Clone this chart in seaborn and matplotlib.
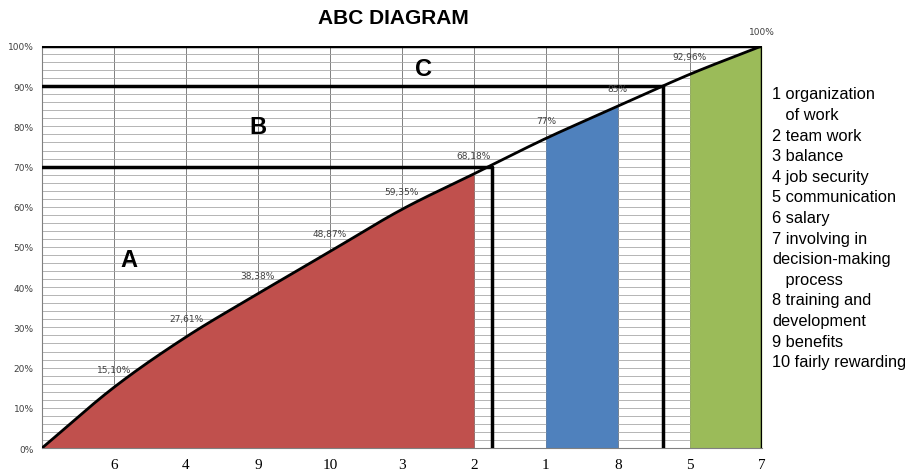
import numpy as np
import matplotlib
matplotlib.use("Agg")
import matplotlib.pyplot as plt
import seaborn as sns

# ABC data: factor order (by share) and cumulative percentages
factor_labels = ["6", "4", "9", "10", "3", "2", "1", "8", "5", "7"]
positions = [0, 1, 2, 3, 4, 5, 6, 7, 8, 9, 10]
cumulative = [0, 15.10, 27.61, 38.38, 48.87, 59.35, 68.18, 77, 85, 92.96, 100]
point_labels = ["15,10%", "27,61%", "38,38%", "48,87%", "59,35%",
                "68,18%", "77%", "85%", "92,96%", "100%"]

# class limits (A / B / C)
class_bounds = [6.25, 8.625, 10]
class_levels = [70, 90, 100]

legend_lines = ["1 organization", "   of work", "2 team work", "3 balance",
                "4 job security", "5 communication", "6 salary",
                "7 involving in", "decision-making", "   process",
                "8 training and", "development", "9 benefits",
                "10 fairly rewarding"]

sns.set_style("white")
plt.rcParams["font.family"] = ["Liberation Sans", "DejaVu Sans"]
plt.rcParams["text.color"] = "black"

fig = plt.figure(figsize=(9.18, 4.77), dpi=100)
ax = fig.add_axes([0.0458, 0.0587, 0.784, 0.8428])

# grid
for p in positions[1:]:
    ax.axvline(p, color="#808080", lw=0.7, zorder=0)
for g in np.arange(2, 100, 2):
    ax.axhline(g, color="#a8a8a8", lw=0.6, zorder=0)

# smoothed cumulative curve (cardinal spline through the points)
px = np.array(positions, dtype=float)
py = np.array(cumulative, dtype=float)
slopes = np.gradient(py, px)
fine_x, fine_y = [], []
for i in range(len(px) - 1):
    t = np.linspace(0, 1, 60, endpoint=False)
    h = px[i + 1] - px[i]
    h00 = 2 * t**3 - 3 * t**2 + 1
    h10 = t**3 - 2 * t**2 + t
    h01 = -2 * t**3 + 3 * t**2
    h11 = t**3 - t**2
    fine_x.extend(px[i] + t * h)
    fine_y.extend(h00 * py[i] + h10 * h * slopes[i] + h01 * py[i + 1] + h11 * h * slopes[i + 1])
fine_x.append(px[-1])
fine_y.append(py[-1])
fine_x = np.array(fine_x)
fine_y = np.array(fine_y)

# coloured areas under the curve
areas = [(0, 6, "#c0504d"), (7, 8, "#4f81bd"), (9, 10, "#9bbb59")]
for x0, x1, col in areas:
    m = (fine_x >= x0) & (fine_x <= x1)
    ax.fill_between(fine_x[m], 0, fine_y[m], color=col, lw=0, zorder=1)

sns.lineplot(x=fine_x, y=fine_y, color="black", lw=2, ax=ax, zorder=3)

# class boundaries
for b, lvl in zip(class_bounds, class_levels):
    ax.plot([b, b], [0, lvl], color="black", lw=2.5, zorder=4)
    ax.plot([0, b], [lvl, lvl], color="black", lw=2.5, zorder=4)

# point labels
for p, v, t in zip(positions[1:], cumulative[1:], point_labels):
    off = 3.5 if p == 10 else 4.5
    ax.text(p, v + off, t, ha="center", va="center", fontsize=6.5,
            color="#404040", family=["DejaVu Sans"], zorder=5)

# class letters
ax.text(1.2, 47, "A", fontsize=17, fontweight="bold", ha="center", va="center")
ax.text(3.0, 80, "B", fontsize=17, fontweight="bold", ha="center", va="center")
ax.text(5.3, 94.5, "C", fontsize=17, fontweight="bold", ha="center", va="center")

ax.set_xlim(0, 10)
ax.set_ylim(0, 100)
ax.set_xticks(positions[1:])
ax.set_xticklabels(factor_labels, family=["Liberation Serif"], fontsize=11,
                   color="black")
ax.set_yticks(np.arange(0, 101, 10))
ax.set_yticklabels([f"{v}%" for v in range(0, 101, 10)], fontsize=6.5,
                   color="#404040", family=["DejaVu Sans"])
ax.tick_params(axis="both", length=3, color="#808080", direction="out")
ax.tick_params(axis="x", pad=4)
ax.tick_params(axis="y", pad=3)
for s in ["top", "right"]:
    ax.spines[s].set_visible(False)
for s in ["left", "bottom"]:
    ax.spines[s].set_color("#808080")
    ax.spines[s].set_linewidth(0.8)

fig.text(0.429, 0.962, "ABC DIAGRAM", fontsize=15, fontweight="bold",
         ha="center", va="center")

# legend text on the right
y0 = 1 - 95 / 477
step = 20.6 / 477
for i, line in enumerate(legend_lines):
    fig.text(772 / 918, y0 - i * step, line, fontsize=11.8, ha="left",
             va="center", color="black")

fig.savefig("out.png", dpi=100)
